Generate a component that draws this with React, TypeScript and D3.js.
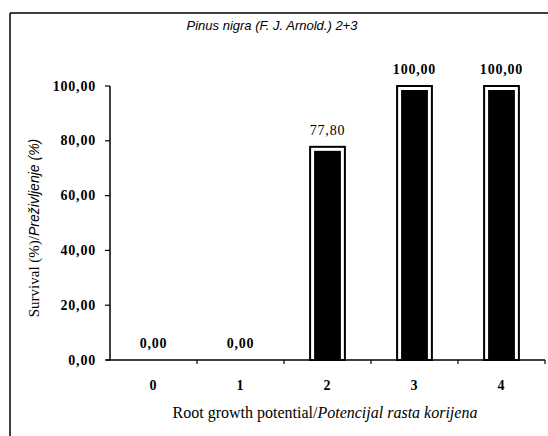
import React from "react";
import * as d3 from "d3";

const categories = ["0", "1", "2", "3", "4"];
const survival = [0, 0, 77.8, 100, 100];
const valueLabels = ["0,00", "0,00", "77,80", "100,00", "100,00"];
const yTicks = [0, 20, 40, 60, 80, 100];
const yTickLabels = ["0,00", "20,00", "40,00", "60,00", "80,00", "100,00"];
const title = "Pinus nigra (F. J. Arnold.) 2+3";

export default function App() {
  const W = 548, H = 436;
  const left = 110, right = 545, top = 86, bottom = 360;
  const x = d3.scaleBand<string>().domain(categories).range([left, right]).padding(0);
  const y = d3.scaleLinear().domain([0, 100]).range([bottom, top]);
  const bw = x.bandwidth() * 0.4;
  const numFont = { fontFamily: "Liberation Serif", fontWeight: 700, fontSize: 14, letterSpacing: 0.8 } as const;
  return (
    <svg width={W} height={H} style={{ position: "absolute", left: 0, top: 0, background: "#fff" }}>
      {/* frame */}
      <line x1={10} y1={13} x2={548} y2={13} stroke="#000" strokeWidth={1.5} />
      <line x1={10} y1={13} x2={10} y2={436} stroke="#000" strokeWidth={1.5} />
      <text x={272} y={30} textAnchor="middle" fontFamily="Liberation Sans" fontStyle="italic" fontSize={13}>{title}</text>
      {/* y axis */}
      <line x1={left} y1={top} x2={left} y2={bottom} stroke="#000" strokeWidth={1.5} />
      {yTicks.map((t, i) => (
        <g key={t}>
          <line x1={left - 5} x2={left} y1={y(t)} y2={y(t)} stroke="#000" strokeWidth={1.2} />
          <text x={96} y={y(t) + 4.5} textAnchor="end" {...numFont}>{yTickLabels[i]}</text>
        </g>
      ))}
      {/* x axis */}
      <line x1={left - 4} y1={bottom} x2={right} y2={bottom} stroke="#000" strokeWidth={1.5} />
      {categories.map((c) => (
        <line key={"t" + c} x1={(x(c) as number) + x.bandwidth()} x2={(x(c) as number) + x.bandwidth()} y1={bottom} y2={bottom + 4} stroke="#000" strokeWidth={1.2} />
      ))}
      {categories.map((c) => (
        <text key={"l" + c} x={(x(c) as number) + x.bandwidth() / 2} y={390} textAnchor="middle" {...numFont}>{c}</text>
      ))}
      {/* bars */}
      {categories.map((c, i) => {
        const cx = (x(c) as number) + x.bandwidth() / 2;
        const v = survival[i];
        const yt = y(v);
        const h = bottom - yt;
        return (
          <g key={"b" + c}>
            {v > 0 && (
              <>
                <rect x={cx - bw / 2} y={yt} width={bw} height={h} fill="#fff" stroke="#000" strokeWidth={2} />
                <rect x={cx - bw / 2 + 4} y={yt + 4} width={bw - 8} height={h - 5} fill="#000" />
              </>
            )}
            <text x={cx} y={yt - 12} textAnchor="middle" {...numFont} fontWeight={v > 0 && v < 100 ? 400 : 700}>{valueLabels[i]}</text>
          </g>
        );
      })}
      {/* axis titles */}
      <text x={325} y={418} textAnchor="middle" fontSize={16}>
        <tspan fontFamily="Liberation Serif">Root growth potential/</tspan>
        <tspan fontFamily="Liberation Serif" fontStyle="italic">Potencijal rasta korijena</tspan>
      </text>
      <text transform="translate(39,228) rotate(-90)" textAnchor="middle" fontSize={15}>
        <tspan fontFamily="Liberation Serif">Survival (%)/</tspan>
        <tspan fontFamily="Liberation Sans" fontStyle="italic" fontSize={14}>Preživljenje (%)</tspan>
      </text>
    </svg>
  );
}
